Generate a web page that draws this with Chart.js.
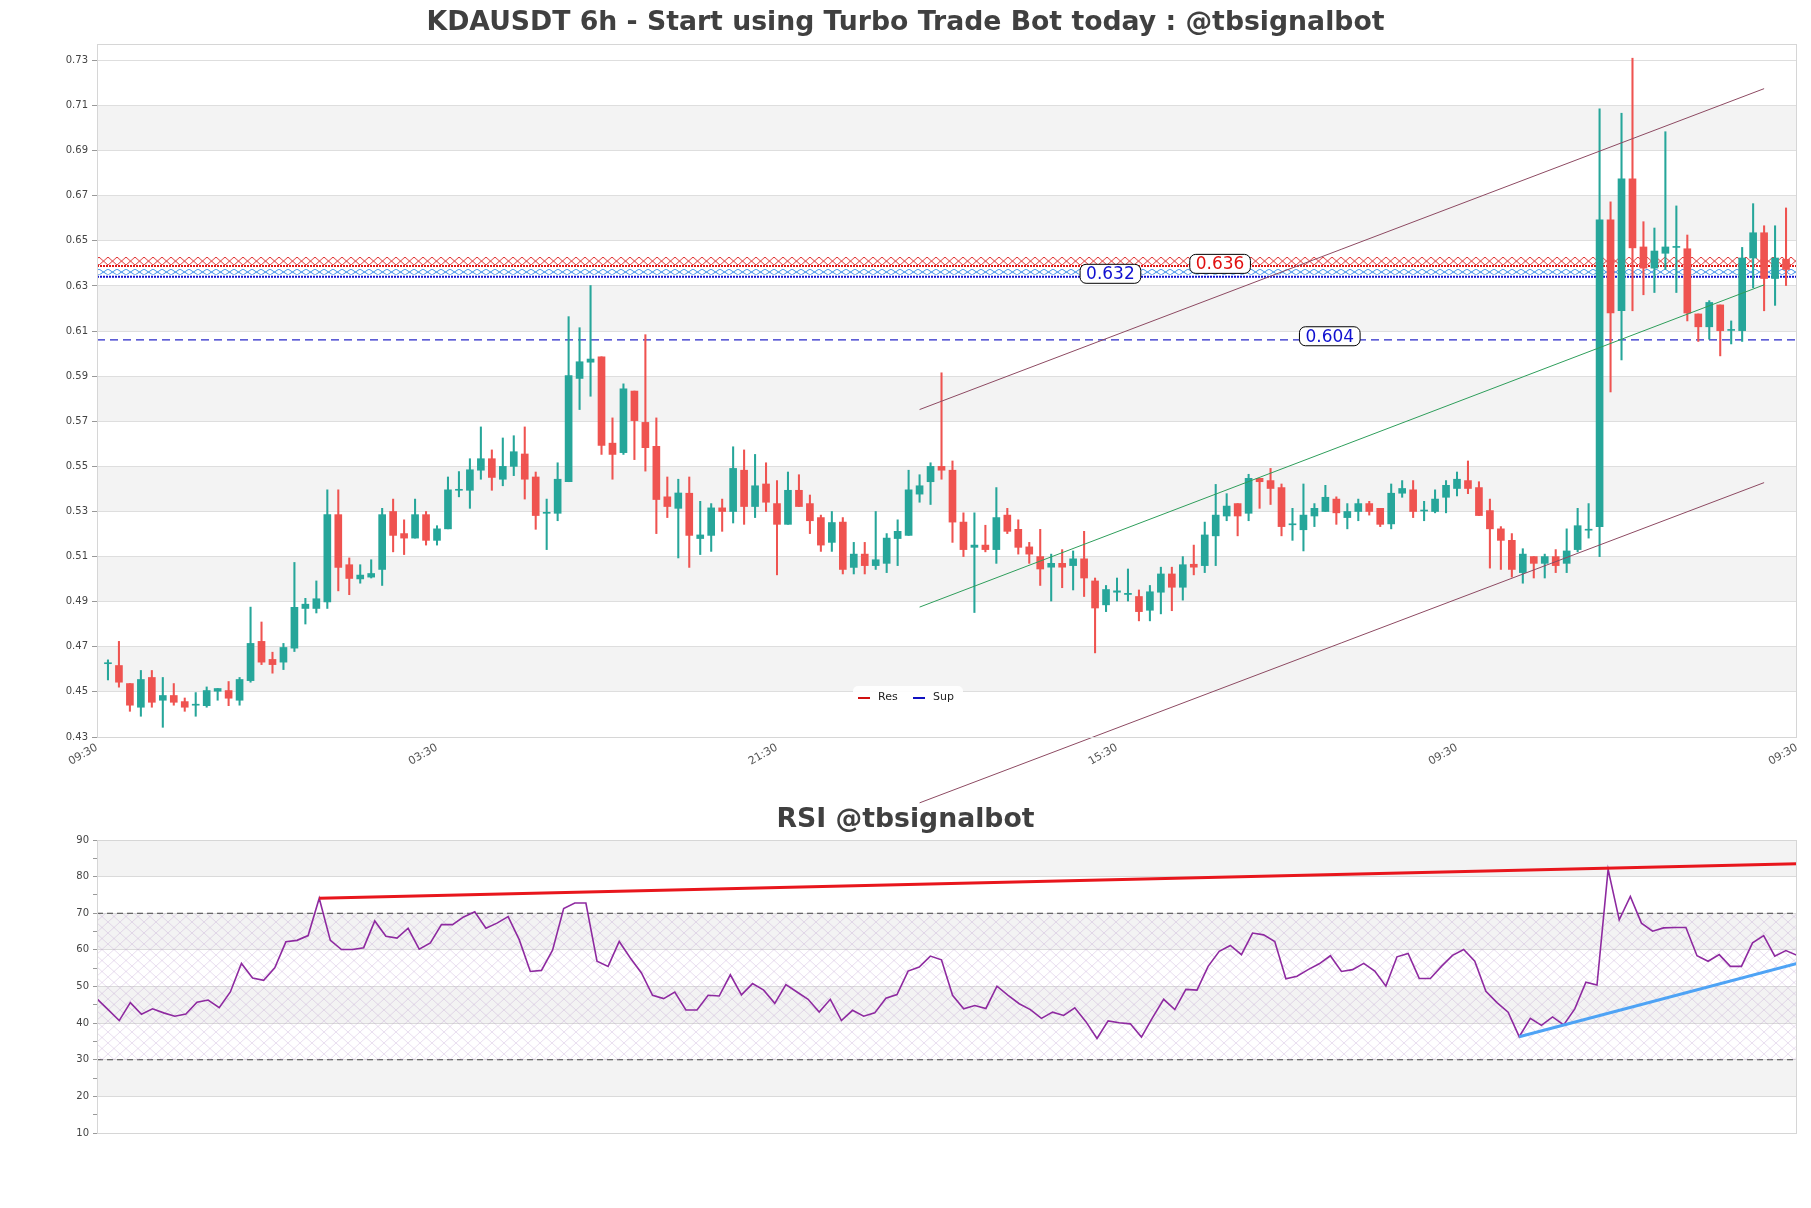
<!DOCTYPE html>
<html>
<head>
<meta charset="utf-8">
<title>KDAUSDT 6h</title>
<script src="https://cdn.jsdelivr.net/npm/chart.js@4.4.0/dist/chart.umd.min.js"></script>
<style>
  html, body { margin: 0; padding: 0; background: #fff; }
  #wrap { position: relative; width: 1811px; height: 1208px; }
  #priceBox { position: absolute; left: 0; top: 0; width: 1811px; height: 820px; }
  #rsiBox { position: absolute; left: 0; top: 790px; width: 1811px; height: 418px; }
</style>
</head>
<body>
<div id="wrap">
  <div id="priceBox"><canvas id="price-chart"></canvas></div>
  <div id="rsiBox"><canvas id="rsi-chart"></canvas></div>
</div>
<script>
// candles (6h bars)
const opens = [
  0.4625, 0.4617, 0.4537, 0.4432, 0.4564, 0.4463, 0.4484, 0.4457, 0.4441, 0.4439,
  0.4503, 0.4506, 0.4463, 0.4550, 0.4724, 0.4644, 0.4632, 0.4694, 0.4870, 0.4870,
  0.4899, 0.5286, 0.5064, 0.5001, 0.5009, 0.5043, 0.5300, 0.5202, 0.5182, 0.5286,
  0.5172, 0.5223, 0.5394, 0.5394, 0.5483, 0.5534, 0.5443, 0.5500, 0.5555, 0.5453,
  0.5292, 0.5292, 0.5432, 0.5890, 0.5962, 0.5986, 0.5603, 0.5561, 0.5834, 0.5695,
  0.5589, 0.5365, 0.5314, 0.5381, 0.5180, 0.5194, 0.5316, 0.5300, 0.5483, 0.5322,
  0.5422, 0.5335, 0.5243, 0.5394, 0.5335, 0.5273, 0.5163, 0.5253, 0.5052, 0.5111,
  0.5060, 0.5070, 0.5180, 0.5194, 0.5377, 0.5432, 0.5500, 0.5483, 0.5253, 0.5141,
  0.5151, 0.5131, 0.5284, 0.5221, 0.5143, 0.5100, 0.5053, 0.5070, 0.5060, 0.5090,
  0.4992, 0.4886, 0.4942, 0.4932, 0.4923, 0.4862, 0.4942, 0.5023, 0.4964, 0.5066,
  0.5060, 0.5192, 0.5280, 0.5335, 0.5292, 0.5447, 0.5437, 0.5406, 0.5241, 0.5219,
  0.5280, 0.5300, 0.5355, 0.5273, 0.5300, 0.5335, 0.5314, 0.5245, 0.5381, 0.5396,
  0.5302, 0.5300, 0.5363, 0.5402, 0.5437, 0.5406, 0.5304, 0.5223, 0.5172, 0.5029,
  0.5100, 0.5070, 0.5100, 0.5070, 0.5131, 0.5217, 0.5233, 0.6593, 0.6190, 0.6775,
  0.6473, 0.6379, 0.6445, 0.6471, 0.6465, 0.6176, 0.6119, 0.6216, 0.6103, 0.6102,
  0.6424, 0.6536, 0.6333, 0.6418
];
const highs = [
  0.4642, 0.4724, 0.4537, 0.4595, 0.4595, 0.4564, 0.4537, 0.4473, 0.4497, 0.4522,
  0.4515, 0.4546, 0.4564, 0.4876, 0.4810, 0.4676, 0.4715, 0.5074, 0.4915, 0.4992,
  0.5396, 0.5396, 0.5094, 0.5064, 0.5086, 0.5314, 0.5355, 0.5263, 0.5355, 0.5300,
  0.5237, 0.5453, 0.5477, 0.5534, 0.5675, 0.5573, 0.5626, 0.5636, 0.5675, 0.5475,
  0.5355, 0.5516, 0.6164, 0.6115, 0.6302, 0.5986, 0.5715, 0.5866, 0.5834, 0.6084,
  0.5715, 0.5453, 0.5443, 0.5453, 0.5345, 0.5335, 0.5355, 0.5587, 0.5573, 0.5553,
  0.5516, 0.5437, 0.5475, 0.5463, 0.5373, 0.5284, 0.5300, 0.5273, 0.5163, 0.5163,
  0.5300, 0.5202, 0.5263, 0.5483, 0.5463, 0.5516, 0.5915, 0.5524, 0.5294, 0.5294,
  0.5239, 0.5406, 0.5314, 0.5263, 0.5163, 0.5221, 0.5111, 0.5131, 0.5125, 0.5212,
  0.5005, 0.4972, 0.5005, 0.5045, 0.4952, 0.4972, 0.5053, 0.5053, 0.5100, 0.5151,
  0.5253, 0.5420, 0.5379, 0.5335, 0.5465, 0.5447, 0.5491, 0.5422, 0.5314, 0.5422,
  0.5335, 0.5416, 0.5365, 0.5335, 0.5355, 0.5345, 0.5314, 0.5422, 0.5437, 0.5437,
  0.5345, 0.5396, 0.5437, 0.5475, 0.5524, 0.5432, 0.5355, 0.5233, 0.5202, 0.5135,
  0.5100, 0.5111, 0.5131, 0.5223, 0.5314, 0.5335, 0.7086, 0.6673, 0.7066, 0.7310,
  0.6585, 0.6557, 0.6984, 0.6655, 0.6526, 0.6176, 0.6235, 0.6216, 0.6145, 0.6471,
  0.6665, 0.6567, 0.6567, 0.6646
];
const lows = [
  0.4553, 0.4521, 0.4414, 0.4392, 0.4432, 0.4343, 0.4441, 0.4414, 0.4392, 0.4432,
  0.4463, 0.4439, 0.4441, 0.4543, 0.4621, 0.4583, 0.4599, 0.4679, 0.4801, 0.4850,
  0.4870, 0.4948, 0.4931, 0.4982, 0.5005, 0.4972, 0.5121, 0.5109, 0.5182, 0.5151,
  0.5151, 0.5223, 0.5365, 0.5314, 0.5443, 0.5394, 0.5414, 0.5459, 0.5355, 0.5221,
  0.5131, 0.5259, 0.5432, 0.5752, 0.5811, 0.5553, 0.5443, 0.5553, 0.5530, 0.5479,
  0.5202, 0.5273, 0.5094, 0.5052, 0.5109, 0.5123, 0.5212, 0.5249, 0.5243, 0.5273,
  0.5300, 0.5019, 0.5243, 0.5322, 0.5202, 0.5123, 0.5123, 0.5023, 0.5023, 0.5023,
  0.5043, 0.5029, 0.5060, 0.5194, 0.5341, 0.5331, 0.5443, 0.5163, 0.5100, 0.4852,
  0.5121, 0.5070, 0.5202, 0.5111, 0.5070, 0.4972, 0.4903, 0.4962, 0.4952, 0.4923,
  0.4673, 0.4856, 0.4903, 0.4903, 0.4815, 0.4815, 0.4846, 0.4860, 0.4907, 0.5019,
  0.5029, 0.5060, 0.5259, 0.5192, 0.5259, 0.5314, 0.5331, 0.5192, 0.5172, 0.5125,
  0.5233, 0.5300, 0.5243, 0.5223, 0.5259, 0.5284, 0.5233, 0.5223, 0.5363, 0.5273,
  0.5259, 0.5294, 0.5294, 0.5369, 0.5379, 0.5282, 0.5049, 0.5043, 0.5009, 0.4982,
  0.5005, 0.5005, 0.5029, 0.5029, 0.5121, 0.5182, 0.5100, 0.5830, 0.5972, 0.6190,
  0.6261, 0.6271, 0.6373, 0.6271, 0.6145, 0.6054, 0.6064, 0.5990, 0.6043, 0.6054,
  0.6292, 0.6190, 0.6214, 0.6302
];
const closes = [
  0.4627, 0.4543, 0.4441, 0.4555, 0.4454, 0.4484, 0.4454, 0.4432, 0.4443, 0.4506,
  0.4515, 0.4472, 0.4555, 0.4715, 0.4632, 0.4621, 0.4697, 0.4875, 0.4889, 0.4913,
  0.5286, 0.5052, 0.5003, 0.5018, 0.5025, 0.5286, 0.5194, 0.5182, 0.5286, 0.5172,
  0.5223, 0.5396, 0.5396, 0.5485, 0.5534, 0.5451, 0.5500, 0.5565, 0.5443, 0.5282,
  0.5294, 0.5443, 0.5903, 0.5964, 0.5976, 0.5593, 0.5553, 0.5844, 0.5703, 0.5583,
  0.5353, 0.5322, 0.5382, 0.5194, 0.5196, 0.5316, 0.5300, 0.5491, 0.5322, 0.5414,
  0.5341, 0.5243, 0.5394, 0.5322, 0.5259, 0.5151, 0.5251, 0.5043, 0.5111, 0.5060,
  0.5086, 0.5182, 0.5212, 0.5396, 0.5414, 0.5500, 0.5483, 0.5253, 0.5131, 0.5151,
  0.5131, 0.5273, 0.5212, 0.5141, 0.5111, 0.5045, 0.5070, 0.5053, 0.5090, 0.5005,
  0.4872, 0.4954, 0.4948, 0.4937, 0.4856, 0.4944, 0.5023, 0.4964, 0.5064, 0.5053,
  0.5196, 0.5284, 0.5324, 0.5280, 0.5447, 0.5432, 0.5402, 0.5233, 0.5243, 0.5284,
  0.5314, 0.5363, 0.5294, 0.5300, 0.5335, 0.5300, 0.5243, 0.5381, 0.5402, 0.5300,
  0.5304, 0.5355, 0.5416, 0.5443, 0.5402, 0.5282, 0.5223, 0.5172, 0.5043, 0.5111,
  0.5070, 0.5100, 0.5060, 0.5125, 0.5237, 0.5219, 0.6593, 0.6180, 0.6775, 0.6469,
  0.6379, 0.6455, 0.6473, 0.6473, 0.6180, 0.6119, 0.6227, 0.6102, 0.6105, 0.6424,
  0.6536, 0.6333, 0.6424, 0.6373
];

const rsi = [
  46.6, 43.7, 40.7, 45.6, 42.4, 43.9, 42.8, 41.9, 42.5, 45.7,
  46.3, 44.2, 48.5, 56.3, 52.3, 51.7, 55.1, 62.2, 62.6, 63.9,
  74.1, 62.6, 60.1, 60.1, 60.6, 67.9, 63.7, 63.2, 65.9, 60.2,
  61.9, 66.9, 66.9, 69.0, 70.4, 65.9, 67.3, 69.1, 62.8, 54.1,
  54.4, 59.9, 71.3, 72.8, 72.8, 56.9, 55.5, 62.3, 57.8, 53.7,
  47.6, 46.7, 48.5, 43.6, 43.6, 47.6, 47.4, 53.2, 47.7, 50.8,
  49.0, 45.4, 50.5, 48.5, 46.5, 43.0, 46.5, 40.7, 43.5, 41.9,
  42.8, 46.8, 47.8, 54.2, 55.3, 58.3, 57.3, 47.6, 43.9, 44.8,
  44.0, 50.1, 47.6, 45.3, 43.7, 41.3, 43.0, 42.1, 44.2, 40.4,
  35.8, 40.6, 40.1, 39.8, 36.2, 41.5, 46.5, 43.7, 49.2, 49.0,
  55.5, 59.6, 61.2, 58.7, 64.6, 64.1, 62.3, 52.1, 52.8, 54.6,
  56.2, 58.4, 54.1, 54.6, 56.3, 54.2, 50.1, 58.1, 59.0, 52.2,
  52.2, 55.5, 58.5, 60.1, 56.9, 48.7, 45.6, 43.0, 36.3, 41.3,
  39.4, 41.7, 39.5, 43.9, 51.2, 50.4, 82.0, 68.2, 74.6, 67.3,
  65.1, 66.0, 66.1, 66.1, 58.4, 56.9, 58.7, 55.5, 55.5, 61.9,
  63.9, 58.3, 59.8, 58.5
];

// axis ticks
const xTickPos = [-1, 30, 61, 92, 123, 154];
const xTickLabels = ['09:30', '03:30', '21:30', '15:30', '09:30', '09:30'];
const yTicks = [0.43, 0.45, 0.47, 0.49, 0.51, 0.53, 0.55, 0.57, 0.59, 0.61, 0.63, 0.65, 0.67, 0.69, 0.71, 0.73];
const rsiTicks = [10, 15, 20, 25, 30, 35, 40, 45, 50, 55, 60, 65, 70, 75, 80, 85, 90];

// trend channel (bar index -> price)
const channelX = [74, 151];
const channelUpper = [0.5752, 0.7175];
const channelLower = [0.4008, 0.5428];
const channelMid = [0.4876, 0.6305];

// resistance / support levels
const resZone = [0.6393, 0.6428];
const supZone = [0.6350, 0.6375];
const resLine = 0.6389;
const supLine = 0.6341;
const supLine2 = 0.6061;
const levelTags = ['0.632', '0.636', '0.604'];
const levelTagX = [91.4, 101.4, 111.4];
const levelTagY = [0.6354, 0.6398, 0.6077];

// rsi trend lines
const rsiResX = [20, 153];
const rsiResY = [74.1, 83.5];
const rsiSupX = [128, 153];
const rsiSupY = [36.3, 56.3];

const GREEN = '#26a69a';
const RED = '#ef5350';

Chart.defaults.font.family = '"DejaVu Sans", sans-serif';
Chart.defaults.font.size = 10;
Chart.defaults.color = '#444';

function makeHatch(w, h, color, lw) {
  const c = document.createElement('canvas');
  c.width = w; c.height = h;
  const g = c.getContext('2d');
  g.strokeStyle = color;
  g.lineWidth = lw;
  g.beginPath();
  g.moveTo(0, 0); g.lineTo(w, h);
  g.moveTo(w, 0); g.lineTo(0, h);
  g.stroke();
  return c;
}
const probe = document.createElement('canvas').getContext('2d');
const redHatch = probe.createPattern(makeHatch(9, 8, '#e03030', 1), 'repeat');
const blueHatch = probe.createPattern(makeHatch(9, 6, '#3d8fe8', 1), 'repeat');
const rsiHatch = probe.createPattern(makeHatch(12, 11, 'rgba(185,150,205,0.45)', 0.7), 'repeat');

const bodies = opens.map((o, i) => ({ x: i, y: [o, closes[i]] }));
const wicks = lows.map((l, i) => ({ x: i, y: [l, highs[i]] }));
const candleColors = closes.map((c, i) => (c >= opens[i] ? GREEN : RED));

const flat = (y) => [{ x: -1, y: y }, { x: 154, y: y }];
const seg = (xs, ys) => xs.map((x, i) => ({ x: x, y: ys[i] }));

function titlePlugin(text, y) {
  return {
    id: 'bigTitle',
    afterDraw(chart) {
      const ctx = chart.ctx;
      ctx.save();
      ctx.font = 'bold 26.7px "DejaVu Sans"';
      ctx.fillStyle = '#404040';
      ctx.textAlign = 'center';
      ctx.textBaseline = 'middle';
      ctx.fillText(text, chart.width / 2, y);
      ctx.restore();
    }
  };
}

function bandsPlugin(bands, fill) {
  return {
    id: 'bands',
    beforeDraw(chart) {
      const { ctx, chartArea, scales } = chart;
      ctx.save();
      ctx.fillStyle = fill;
      bands.forEach(([a, b]) => {
        const y1 = scales.y.getPixelForValue(b);
        const y2 = scales.y.getPixelForValue(a);
        ctx.fillRect(chartArea.left, y1, chartArea.right - chartArea.left, y2 - y1);
      });
      ctx.restore();
    },
    afterDraw(chart) {
      const { ctx, chartArea } = chart;
      ctx.save();
      ctx.strokeStyle = '#d6d6d6';
      ctx.lineWidth = 1;
      ctx.strokeRect(chartArea.left + 0.5, chartArea.top + 0.5, chartArea.right - chartArea.left - 1, chartArea.bottom - chartArea.top);
      ctx.restore();
    }
  };
}

const priceBands = [[0.45, 0.47], [0.49, 0.51], [0.53, 0.55], [0.57, 0.59], [0.61, 0.63], [0.65, 0.67], [0.69, 0.71]];
const rsiBands = [[20, 30], [40, 50], [60, 70], [80, 90]];

// pin hatch patterns to the band tops, then tags and legend on top
const levelsPlugin = {
  id: 'levels',
  beforeDatasetsDraw(chart) {
    const y = chart.scales.y;
    redHatch.setTransform(new DOMMatrix().translate(0, y.getPixelForValue(resZone[1])));
    blueHatch.setTransform(new DOMMatrix().translate(0, y.getPixelForValue(supZone[1])));
  },
  afterDatasetsDraw(chart) {
    const { ctx, scales } = chart;
    ctx.save();
    ctx.font = '17px "DejaVu Sans"';
    ctx.textAlign = 'center';
    ctx.textBaseline = 'middle';
    levelTags.forEach((t, i) => {
      const px = scales.x.getPixelForValue(levelTagX[i]);
      const py = scales.y.getPixelForValue(levelTagY[i]);
      const w = ctx.measureText(t).width + 12;
      const h = 19;
      ctx.beginPath();
      ctx.roundRect(px - w / 2, py - h / 2, w, h, 6);
      ctx.fillStyle = '#fff';
      ctx.fill();
      ctx.strokeStyle = '#000';
      ctx.lineWidth = 1;
      ctx.stroke();
      ctx.fillStyle = t === '0.636' ? '#e01010' : '#1010d0';
      ctx.fillText(t, px, py + 1);
    });

    // legend box
    ctx.beginPath();
    ctx.roundRect(853, 686, 110, 24, 5);
    ctx.fillStyle = 'rgba(255,255,255,0.9)';
    ctx.fill();
    ctx.font = '11px "DejaVu Sans"';
    ctx.textAlign = 'left';
    ctx.fillStyle = '#222';
    ctx.lineWidth = 2;
    ctx.strokeStyle = '#d01010';
    ctx.beginPath(); ctx.moveTo(858, 698); ctx.lineTo(870, 698); ctx.stroke();
    ctx.fillText('Res', 878, 697);
    ctx.strokeStyle = '#1010c0';
    ctx.beginPath(); ctx.moveTo(913, 698); ctx.lineTo(925, 698); ctx.stroke();
    ctx.fillText('Sup', 933, 697);
    ctx.restore();
  }
};

new Chart(document.getElementById('price-chart'), {
  type: 'bar',
  data: {
    datasets: [
      { type: 'line', data: flat(resZone[1]), fill: { value: resZone[0] }, backgroundColor: redHatch, borderWidth: 0, pointRadius: 0, order: 6 },
      { type: 'line', data: flat(supZone[1]), fill: { value: supZone[0] }, backgroundColor: blueHatch, borderWidth: 0, pointRadius: 0, order: 6 },
      { type: 'line', data: flat(resLine), borderColor: '#e01818', borderWidth: 2, borderDash: [2, 1], pointRadius: 0, order: 5 },
      { type: 'line', data: flat(supLine), borderColor: '#1010d0', borderWidth: 2, borderDash: [2, 1], pointRadius: 0, order: 5 },
      { type: 'line', data: flat(supLine2), borderColor: '#2828c8', borderWidth: 1.2, borderDash: [8, 5], pointRadius: 0, order: 5 },
      { data: wicks, backgroundColor: candleColors, barThickness: 1.4, grouped: false, borderWidth: 0, order: 3 },
      { data: bodies, backgroundColor: candleColors, barThickness: 7, grouped: false, borderWidth: 0, minBarLength: 1, order: 2 },
      { type: 'line', data: seg(channelX, channelUpper), borderColor: '#8d4a62', borderWidth: 1, pointRadius: 0, clip: false, order: 1 },
      { type: 'line', data: seg(channelX, channelLower), borderColor: '#8d4a62', borderWidth: 1, pointRadius: 0, clip: false, order: 1 },
      { type: 'line', data: seg(channelX, channelMid), borderColor: '#2e9e5b', borderWidth: 1, pointRadius: 0, clip: false, order: 1 }
    ]
  },
  options: {
    responsive: true,
    maintainAspectRatio: false,
    animation: false,
    layout: { padding: { left: 0, right: 14, top: 44, bottom: 43 } },
    plugins: { legend: { display: false }, tooltip: { enabled: false } },
    scales: {
      x: {
        type: 'linear',
        min: -1,
        max: 154,
        offset: false,
        afterBuildTicks: (axis) => { axis.ticks = xTickPos.map((v) => ({ value: v })); },
        afterFit: (axis) => { axis.height = 40; },
        grid: { display: false, drawTicks: false },
        border: { display: false },
        ticks: {
          autoSkip: false,
          minRotation: 30,
          maxRotation: 30,
          padding: 4,
          font: { size: 11 },
          color: '#555',
          callback: (v, i) => xTickLabels[i]
        }
      },
      y: {
        min: 0.43,
        max: 0.7373,
        afterBuildTicks: (axis) => { axis.ticks = yTicks.map((v) => ({ value: v })); },
        afterFit: (axis) => { axis.width = 97; },
        grid: { color: '#dedede', tickColor: '#999', tickLength: 5 },
        border: { display: false },
        ticks: { padding: 4, color: '#444', callback: (v) => v.toFixed(2) }
      }
    }
  },
  plugins: [bandsPlugin(priceBands, '#f3f3f3'), levelsPlugin, titlePlugin('KDAUSDT 6h - Start using Turbo Trade Bot today : @tbsignalbot', 23)]
});

new Chart(document.getElementById('rsi-chart'), {
  type: 'line',
  data: {
    datasets: [
      { data: [{ x: 0, y: 70 }, { x: 153, y: 70 }], fill: { value: 30 }, backgroundColor: rsiHatch, borderColor: '#444', borderWidth: 1.2, borderDash: [6, 4], pointRadius: 0, order: 4 },
      { data: [{ x: 0, y: 30 }, { x: 153, y: 30 }], borderColor: '#444', borderWidth: 1.2, borderDash: [6, 4], pointRadius: 0, order: 4 },
      { data: rsi.map((v, i) => ({ x: i, y: v })), borderColor: '#8e2aa0', borderWidth: 1.6, pointRadius: 0, tension: 0, order: 2 },
      { data: seg(rsiResX, rsiResY), borderColor: '#e8161c', borderWidth: 3, pointRadius: 0, order: 1 },
      { data: seg(rsiSupX, rsiSupY), borderColor: '#4ea3f5', borderWidth: 3, pointRadius: 0, order: 1 }
    ]
  },
  options: {
    responsive: true,
    maintainAspectRatio: false,
    animation: false,
    layout: { padding: { left: 0, right: 14, top: 50, bottom: 75 } },
    plugins: { legend: { display: false }, tooltip: { enabled: false } },
    scales: {
      x: { type: 'linear', min: 0, max: 153, display: false },
      y: {
        min: 10,
        max: 90,
        afterBuildTicks: (axis) => { axis.ticks = rsiTicks.map((v) => ({ value: v })); },
        afterFit: (axis) => { axis.width = 97; },
        grid: {
          color: (c) => (c.tick && c.tick.value % 10 === 0 ? '#dadada' : 'rgba(0,0,0,0)'),
          tickColor: '#999',
          tickLength: 4
        },
        border: { display: false },
        ticks: { padding: 4, color: '#444', callback: (v) => (v % 10 === 0 ? String(v) : '') }
      }
    }
  },
  plugins: [bandsPlugin(rsiBands, '#f3f3f3'), titlePlugin('RSI @tbsignalbot', 30)]
});
</script>
</body>
</html>
